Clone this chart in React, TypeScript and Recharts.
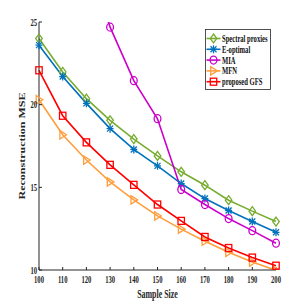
import React from 'react';
import { LineChart, Line, XAxis, YAxis } from 'recharts';

// 横軸（サンプル数）
const sampleSizes = [100, 110, 120, 130, 140, 150, 160, 170, 180, 190, 200];

// 各手法の再構成MSE
const spectralProxies = [24.0, 21.98, 20.36, 19.05, 17.92, 16.9, 15.94, 15.13, 14.22, 13.56, 12.93];
const eOptimal = [23.6, 21.7, 20.08, 18.55, 17.29, 16.3, 15.23, 14.32, 13.6, 12.93, 12.28];
const mia = [null, null, 29.0, 24.69, 21.45, 19.15, 14.87, 13.96, 13.11, 12.38, 11.62];
const mfn = [20.3, 18.18, 16.65, 15.33, 14.24, 13.27, 12.47, 11.74, 11.07, 10.48, 9.98];
const proposedGfs = [22.08, 19.33, 17.72, 16.36, 15.15, 13.96, 12.97, 12.0, 11.33, 10.75, 10.26];

const yTicks = [10, 15, 20, 25];

const seriesNames = ['Spectral proxies', 'E-optimal', 'MIA', 'MFN', 'proposed GFS'];
const seriesKeys = ['sp', 'eo', 'mia', 'mfn', 'gfs'];
const seriesColors = ['#77AC30', '#0072BD', '#CC00CC', '#FF9E3D', '#FF0000'];
const seriesMarkers = ['diamond', 'star', 'circle', 'triangle', 'square'];

const data = sampleSizes.map((s, i) => ({
  size: s,
  sp: spectralProxies[i],
  eo: eOptimal[i],
  mia: mia[i],
  mfn: mfn[i],
  gfs: proposedGfs[i],
}));

const SQ = 0.66; // 元画像は横方向に潰れている
const FONT = '"Liberation Serif", "Times New Roman", serif';
const AXIS = '#262626';

function Marker({ kind, cx, cy, color }: { kind: string; cx: number; cy: number; color: string }) {
  const p = { stroke: color, strokeWidth: 1.3, fill: 'none' };
  switch (kind) {
    case 'diamond':
      return <polygon {...p} points={`${cx},${cy - 4.5} ${cx + 3.3},${cy} ${cx},${cy + 4.5} ${cx - 3.3},${cy}`} />;
    case 'star':
      return (
        <g {...p}>
          <line x1={cx} y1={cy - 4} x2={cx} y2={cy + 4} />
          <line x1={cx - 3.5} y1={cy} x2={cx + 3.5} y2={cy} />
          <line x1={cx - 3} y1={cy - 3} x2={cx + 3} y2={cy + 3} />
          <line x1={cx - 3} y1={cy + 3} x2={cx + 3} y2={cy - 3} />
        </g>
      );
    case 'circle':
      return <ellipse {...p} cx={cx} cy={cy} rx={3.4} ry={4} />;
    case 'triangle':
      return <polygon {...p} points={`${cx + 3.8},${cy} ${cx - 2.8},${cy - 4.2} ${cx - 2.8},${cy + 4.2}`} />;
    default:
      return <rect {...p} x={cx - 3.2} y={cy - 3.5} width={6.4} height={7} />;
  }
}

const XTick = ({ x, y, payload }: any) => (
  <text
    transform={`translate(${x},${y}) scale(${SQ},1)`}
    textAnchor="middle"
    dy="0.71em"
    fontFamily={FONT}
    fontWeight="bold"
    fontSize={10}
    fill={AXIS}
  >
    {payload.value}
  </text>
);

const YTick = ({ x, y, payload }: any) => (
  <text
    transform={`translate(${x},${y}) scale(${SQ},1)`}
    textAnchor="end"
    dy="0.35em"
    fontFamily={FONT}
    fontWeight="bold"
    fontSize={10}
    fill={AXIS}
  >
    {payload.value}
  </text>
);

const LegendBox = () => (
  <svg width={66} height={61} style={{ display: 'block' }}>
    <rect x={0.5} y={0.5} width={65} height={60} fill="#fff" stroke={AXIS} strokeWidth={0.8} />
    {seriesNames.map((name, i) => {
      const cy = 9.5 + i * 10.8;
      return (
        <g key={name}>
          <line x1={1.5} x2={15.5} y1={cy} y2={cy} stroke={seriesColors[i]} strokeWidth={1.6} />
          <Marker kind={seriesMarkers[i]} cx={8.5} cy={cy} color={seriesColors[i]} />
          <text
            transform={`translate(17,${cy}) scale(${SQ},1)`}
            dy="0.35em"
            fontFamily={FONT}
            fontWeight="bold"
            fontSize={10}
            fill="#111"
          >
            {name}
          </text>
        </g>
      );
    })}
  </svg>
);

export default function App() {
  return (
    <div style={{ position: 'absolute', left: 0, top: 0, width: 305, height: 305, background: '#fff' }}>
      <LineChart width={305} height={305} data={data} margin={{ top: 22, right: 29, bottom: 5, left: 0 }}>
        <XAxis
          xAxisId="b"
          dataKey="size"
          type="number"
          domain={[100, 200]}
          ticks={sampleSizes}
          interval={0}
          height={30}
          stroke={AXIS}
          tickSize={-3}
          tickMargin={9}
          tick={<XTick />}
          label={{
            content: ({ viewBox }: any) => (
              <text
                transform={`translate(${viewBox.x + viewBox.width / 2},${viewBox.y + 28}) scale(${SQ},1)`}
                textAnchor="middle"
                fontFamily={FONT}
                fontWeight="bold"
                fontSize={12}
                fill={AXIS}
              >
                Sample Size
              </text>
            ),
          }}
        />
        <XAxis
          xAxisId="t"
          dataKey="size"
          type="number"
          orientation="top"
          domain={[100, 200]}
          ticks={sampleSizes}
          interval={0}
          height={0}
          mirror
          stroke={AXIS}
          tickSize={3}
          tickFormatter={() => ''}
        />
        <YAxis
          yAxisId="l"
          type="number"
          domain={[10, 25]}
          ticks={yTicks}
          interval={0}
          allowDataOverflow
          width={39}
          stroke={AXIS}
          tickSize={-3}
          tickMargin={5}
          tick={<YTick />}
          label={{
            content: ({ viewBox }: any) => (
              <text
                transform={`translate(25,${viewBox.y + viewBox.height / 2}) rotate(-90) scale(1,${SQ})`}
                textAnchor="middle"
                fontFamily={FONT}
                fontWeight="bold"
                fontSize={12}
                fill={AXIS}
              >
                Reconstruction MSE
              </text>
            ),
          }}
        />
        <YAxis
          yAxisId="r"
          orientation="right"
          type="number"
          domain={[10, 25]}
          ticks={yTicks}
          interval={0}
          width={0}
          mirror
          stroke={AXIS}
          tickSize={3}
          tickFormatter={() => ''}
        />
        {seriesKeys.map((k, i) => (
          <Line
            key={k}
            xAxisId="b"
            yAxisId="l"
            dataKey={k}
            name={seriesNames[i]}
            stroke={seriesColors[i]}
            strokeWidth={1.6}
            isAnimationActive={false}
            connectNulls={false}
            dot={(props: any) =>
              props.cy == null ? (
                <g key={`${k}-${props.index}`} />
              ) : (
                <Marker key={`${k}-${props.index}`} kind={seriesMarkers[i]} cx={props.cx} cy={props.cy} color={seriesColors[i]} />
              )
            }
          />
        ))}
      </LineChart>
      <div style={{ position: 'absolute', left: 205, top: 29 }}>
        <LegendBox />
      </div>
    </div>
  );
}
